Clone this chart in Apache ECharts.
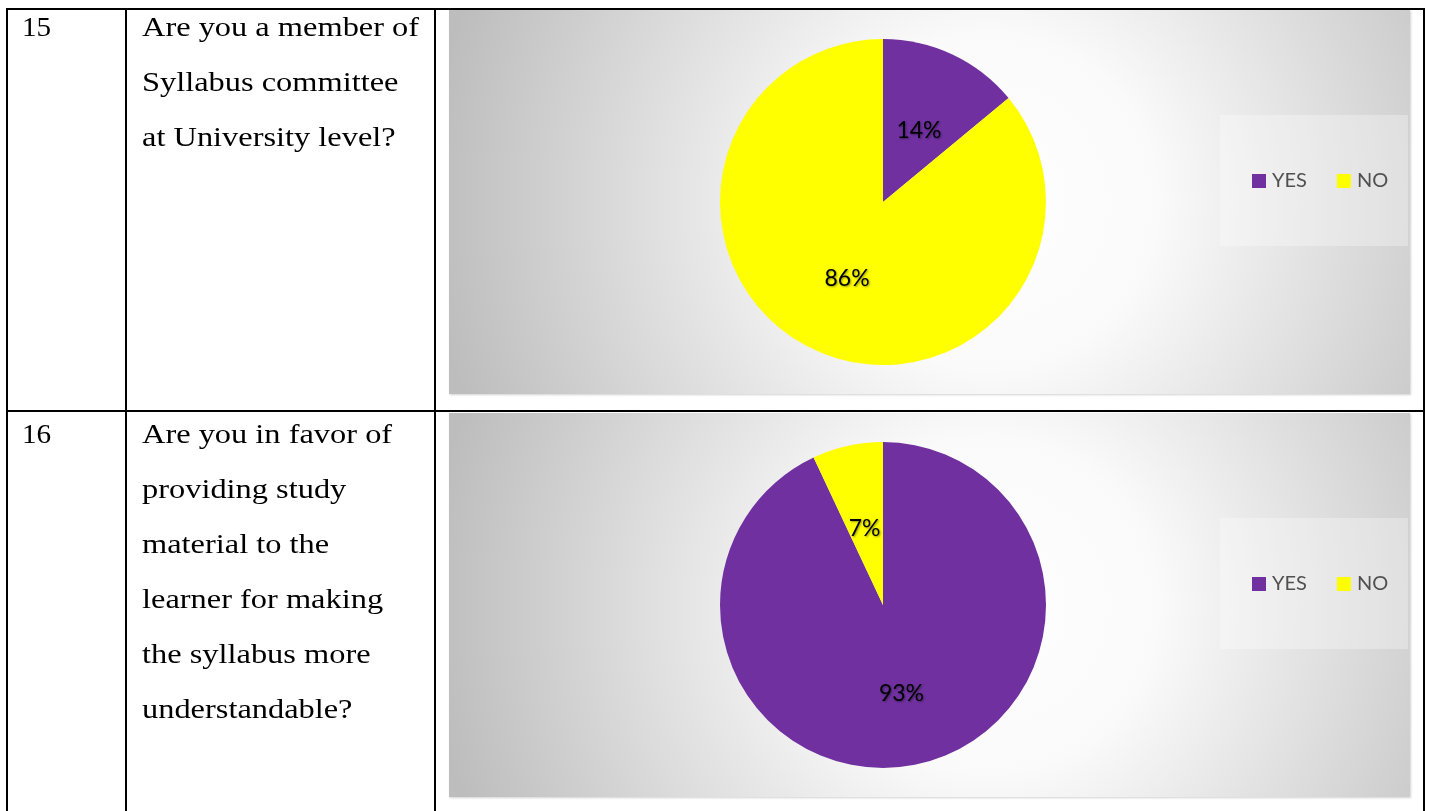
<!DOCTYPE html>
<html>
<head>
<meta charset="utf-8">
<script src="https://cdn.jsdelivr.net/npm/echarts@6/dist/echarts.min.js"></script>
<style>
html,body{margin:0;padding:0;background:#fff;}
#chart{width:1430px;height:811px;}
</style>
</head>
<body>
<div id="chart"></div>
<script>
// ---- data ----
const categories = ['YES', 'NO'];
const q15Values = [14, 86];
const q16Values = [93, 7];
const rowNumbers = ['15', '16'];
const q15Lines = ['Are you a member of', 'Syllabus committee', 'at University level?'];
const q16Lines = ['Are you in favor of', 'providing study', 'material to the', 'learner for making', 'the syllabus more', 'understandable?'];
const sliceColors = ['#7030A0', '#FFFF00'];

// ---- layout ----
const rows = [
  { top: 10, bottom: 394, firstLine: 29, values: q15Values, lines: q15Lines, num: rowNumbers[0], labelDy: [5, 0] },
  { top: 413, bottom: 797, firstLine: 436, values: q16Values, lines: q16Lines, num: rowNumbers[1], labelDy: [6, 6] }
];
const chartLeft = 449, chartRight = 1410;
const lineGap = 55;
const serif = '27px "Liberation Serif", "Times New Roman", serif';
const textScale = 1.2;

const chart = echarts.init(document.getElementById('chart'), null, { renderer: 'canvas' });

const graphics = [];
rows.forEach(r => {
  const cx = (chartLeft + chartRight) / 2 + 60, cy = (r.top + r.bottom) / 2;
  graphics.push({
    type: 'rect', z: -10,
    shape: { x: chartLeft, y: r.top, width: chartRight - chartLeft, height: r.bottom - r.top },
    style: {
      fill: { type: 'radial', x: cx, y: cy, r: 560, global: true,
        colorStops: [{ offset: 0, color: '#ffffff' }, { offset: 0.3, color: '#fafafa' }, { offset: 1, color: '#bdbdbd' }] },
      shadowColor: 'rgba(0,0,0,0.18)', shadowBlur: 2, shadowOffsetX: 1, shadowOffsetY: 1
    }
  });
  graphics.push({
    type: 'rect', z: -9,
    shape: { x: 1220, y: r.top + 105, width: 188, height: 131 },
    style: { fill: 'rgba(255,255,255,0.3)' }
  });
  graphics.push({
    type: 'text', x: 22, y: r.firstLine, scaleX: 1.08,
    style: { text: r.num, font: serif, fill: '#000', verticalAlign: 'middle' }
  });
  r.lines.forEach((t, i) => {
    graphics.push({
      type: 'text', x: 142, y: r.firstLine + i * lineGap, scaleX: textScale,
      style: { text: t, font: serif, fill: '#000', verticalAlign: 'middle' }
    });
  });
});
const vx = [7, 126, 435, 1424];
vx.forEach(x => graphics.push({ type: 'line', z: 5, shape: { x1: x, y1: 8, x2: x, y2: 811 }, style: { stroke: '#000', lineWidth: 2 } }));
[9, 411].forEach(y => graphics.push({ type: 'line', z: 5, shape: { x1: 6, y1: y, x2: 1425, y2: y }, style: { stroke: '#000', lineWidth: 2 } }));

const labelStyle = {
  show: true, position: 'inside', formatter: '{c}%',
  fontFamily: 'Lato, "Open Sans", sans-serif', fontSize: 23, color: '#000',
  textShadowColor: 'rgba(0,0,0,0.4)', textShadowBlur: 2, textShadowOffsetX: 1, textShadowOffsetY: 1
};

const series = rows.map((r, idx) => ({
  type: 'pie',
  name: 'Q' + rowNumbers[idx],
  center: [883, (r.top + r.bottom) / 2],
  radius: 163,
  startAngle: 90,
  clockwise: true,
  silent: true,
  avoidLabelOverlap: false,
  label: labelStyle,
  labelLine: { show: false },
  labelLayout: function (p) { return { dy: r.labelDy[p.dataIndex] }; },
  emphasis: { disabled: true },
  data: categories.map((c, i) => ({ name: c, value: r.values[i], itemStyle: { color: sliceColors[i] } }))
}));

const legends = rows.map(r => ({
  data: categories,
  left: 1252,
  top: r.top + 161,
  orient: 'horizontal',
  itemWidth: 14, itemHeight: 14, itemGap: 30, padding: 0,
  icon: 'rect',
  selectedMode: false,
  textStyle: { fontFamily: 'Lato, "Open Sans", sans-serif', fontSize: 20, color: '#505050', padding: [0, 0, 0, 1] }
}));

chart.setOption({
  animation: false,
  backgroundColor: '#ffffff',
  legend: legends,
  graphic: graphics,
  series: series
});
</script>
</body>
</html>
